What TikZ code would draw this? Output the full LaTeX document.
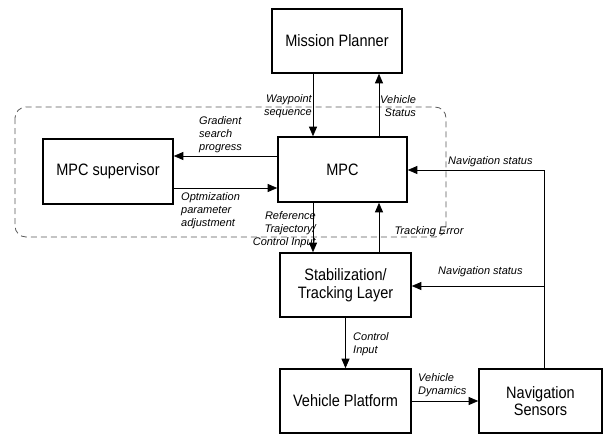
\documentclass[tikz,border=0pt]{standalone}
\usepackage{fontspec}
\setmainfont{Liberation Sans}
\newfontfamily\boxfont[FakeStretch=0.88]{Liberation Sans}
\newfontfamily\lblfont{Liberation Sans}
\usetikzlibrary{arrows.meta}
\begin{document}
\begin{tikzpicture}[x=1pt,y=-1pt,
  blk/.style={draw,line width=1.6pt,inner sep=0pt,align=center,
    font=\boxfont\fontsize{16.5}{17.5}\selectfont},
  lbl/.style={inner sep=0pt,font=\lblfont\itshape\fontsize{11}{13}\selectfont},
  conn/.style={line width=0.8pt,-{Triangle[length=9.5pt,width=8pt]}},
  plain/.style={line width=0.8pt},
  grp/.style={draw=black!65,dashed,dash pattern=on 6pt off 4pt,line width=0.8pt,rounded corners=11pt}]
\useasboundingbox (0,0) rectangle (609,436);
% group frame
\draw[grp] (15,107) rectangle (446,237);
% blocks
\node[blk,minimum width=130pt,minimum height=64pt] (mp) at (337,41) {Mission Planner};
\node[blk,minimum width=130pt,minimum height=65pt] (sup) at (108,171.5) {MPC supervisor};
\node[blk,minimum width=129pt,minimum height=65pt] (mpc) at (342.5,169.5) {MPC};
\node[blk,minimum width=131pt,minimum height=64pt] (stab) at (345.5,285) {Stabilization/\\Tracking Layer};
\node[blk,minimum width=131pt,minimum height=64pt] (vp) at (345.5,401) {Vehicle Platform};
\node[blk,minimum width=123pt,minimum height=64pt] (ns) at (540.5,401) {Navigation\\Sensors};
% helper coordinates
\coordinate (xa) at (313,0);
\coordinate (xb) at (379,0);
\coordinate (xc) at (345.5,0);
\coordinate (ya) at (0,156);
\coordinate (yb) at (0,188);
\coordinate (yc) at (0,170);
\coordinate (yd) at (0,286);
\coordinate (xn) at (544,0);
\coordinate (top) at (xn |- yc);
\coordinate (mid) at (xn |- yd);
% connectors
\draw[conn] (mp.south -| xa) -- (mpc.north -| xa);
\draw[conn] (mpc.north -| xb) -- (mp.south -| xb);
\draw[conn] (mpc.west |- ya) -- (sup.east |- ya);
\draw[conn] (sup.east |- yb) -- (mpc.west |- yb);
\draw[conn] (mpc.south -| xa) -- (stab.north -| xa);
\draw[conn] (stab.north -| xb) -- (mpc.south -| xb);
\draw[conn] (stab.south -| xc) -- (vp.north -| xc);
\draw[conn] (vp.east |- ns.west) -- (ns.west);
\draw[plain] (ns.north -| xn) -- (top);
\draw[conn] (top) -- (mpc.east |- yc);
\draw[conn] (mid) -- (stab.east |- yd);
% labels
\node[lbl,align=right,anchor=east] (l1) at (312,106) {Waypoint\\sequence};
\node[lbl,align=right,anchor=west] (l2) at (380,106) {Vehicle\\Status};
\node[lbl,align=left,anchor=west] (l3) at (199,135) {Gradient\\search\\progress};
\node[lbl,align=left,anchor=west] (l4) at (181,211) {Optmization\\parameter\\adjustment};
\node[lbl,align=right,anchor=east] (l5) at (316,230) {Reference\\Trajectory/\\Control Input};
\node[lbl] (l6) at (429,232) {Tracking Error};
\node[lbl,anchor=west] (l7) at (448,162) {Navigation status};
\node[lbl,anchor=west] (l8) at (438,272) {Navigation status};
\node[lbl,align=left,anchor=west] (l9) at (353,344) {Control\\Input};
\node[lbl,align=left,anchor=west] (l10) at (418,385) {Vehicle\\Dynamics};
\end{tikzpicture}
\end{document}
